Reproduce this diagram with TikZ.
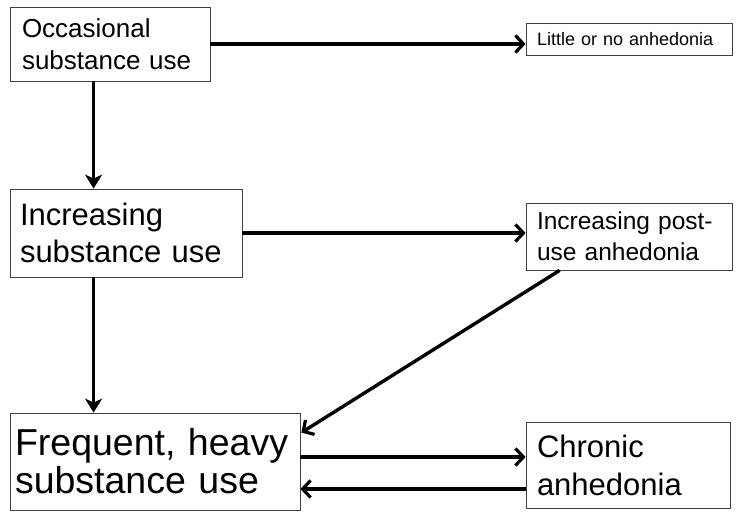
\documentclass[tikz,border=0pt]{standalone}
\usepackage{fontspec}
\setmainfont{Liberation Sans}
\usetikzlibrary{arrows.meta,calc}
\begin{document}
\begin{tikzpicture}[x=1pt,y=1pt,
  box/.style={draw=black!75, line width=0.8pt, rectangle, align=left, anchor=center, inner ysep=0pt},
  conn/.style={line width=3.4pt, -{Straight Barb[length=8pt,width=17pt,line width=3.2pt]}},
  vconn/.style={line width=3.4pt, -{Stealth[length=14pt,width=17pt,inset=4pt]}}]
\useasboundingbox (0,0) rectangle (738,512);
\node[box, minimum width=200pt, minimum height=74pt, text width=176pt, inner xsep=12pt, font=\fontsize{26}{32}\selectfont] (occ) at (110,468) {Occasional\\substance use};
\node[box, minimum width=206pt, minimum height=32pt, text width=184pt, inner xsep=11pt, font=\fontsize{18}{22}\selectfont] (little) at (629,473) {Little or no anhedonia};
\node[box, minimum width=232pt, minimum height=88pt, text width=212pt, inner xsep=10pt, font=\fontsize{31}{37}\selectfont] (inc) at (126,279) {Increasing\\substance use};
\node[box, minimum width=206pt, minimum height=67pt, text width=184pt, inner xsep=11pt, font=\fontsize{24.5}{31}\selectfont] (post) at (629,275.5) {Increasing post-\\use anhedonia};
\node[box, minimum width=290pt, minimum height=97pt, text width=280pt, inner xsep=5pt, font=\fontsize{37.5}{38}\selectfont] (freq) at (155,50.5) {Frequent, heavy\\substance use};
\node[box, minimum width=204pt, minimum height=86pt, text width=182pt, inner xsep=11pt, font=\fontsize{31}{38}\selectfont] (chron) at (628,47) {Chronic\\anhedonia};
\draw[conn] (occ.east) -- (little.west |- occ.east);
\draw[vconn] ($(occ.south west)+(84,0)$) -- ($(inc.north west)+(84,0)$);
\draw[conn] (inc.east) -- (post.west |- inc.east);
\draw[vconn] ($(inc.south west)+(84,0)$) -- ($(freq.north west)+(84,0)$);
\draw[conn] ($(post.south west)+(34,0)$) -- ($(freq.north east)+(1,-20)$);
\coordinate (fc) at ($(chron.west)+(0,8)$);
\coordinate (cf) at ($(chron.west)+(0,-24)$);
\draw[conn] (freq.east |- fc) -- (fc);
\draw[conn] (cf) -- (freq.east |- cf);
\end{tikzpicture}
\end{document}
